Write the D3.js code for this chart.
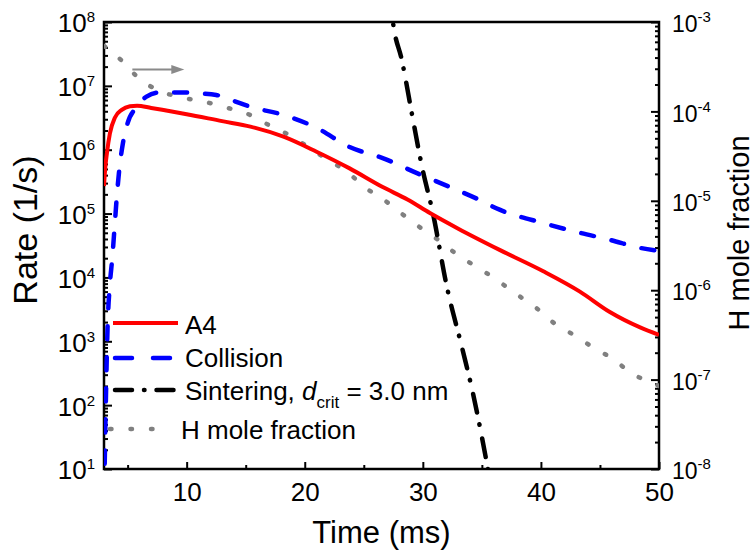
<!DOCTYPE html>
<html>
<head>
<meta charset="utf-8">
<script src="https://cdn.jsdelivr.net/npm/d3@7"></script>
<style>
body { margin: 0; background: #fff; }
svg text { font-family: "Liberation Sans", Arial, sans-serif; fill: #000; }
.tick line { stroke: #000; stroke-width: 2; }
</style>
</head>
<body>
<div id="main"></div>
<script>
var ctx = {
    w: 754,
    h: 555,
    left: 104,
    right: 659,
    top: 22,
    bottom: 469,
};

// A4 rate (1/s) vs time (ms)
var timeA4 = [3.0, 3.1, 3.25, 3.5, 3.93, 4.5, 5.2, 5.8, 7, 10, 13, 15.4, 18.2, 21, 23.8, 26.6, 28.7, 30.6, 33, 36.5, 40.2, 43.3, 45.8, 48.4, 50];
var rateA4 = [2.7e5, 5.0e5, 8.9e5, 1.8e6, 3.2e6, 4.2e6, 4.8e6, 4.9e6, 4.5e6, 3.6e6, 2.8e6, 2.3e6, 1.6e6, 9.3e5, 5.1e5, 2.6e5, 1.66e5, 1.02e5, 5.8e4, 2.7e4, 1.25e4, 6.0e3, 2.9e3, 1.65e3, 1.26e3];

// collision rate
var timeColl = [3.0, 3.05, 3.15, 3.3, 3.5, 3.7, 3.9, 4.1, 4.3, 4.6, 5.0, 5.8, 6.6, 7.7, 9.4, 11.1, 12.5, 13.9, 15.4, 18.2, 21, 23.8, 26.6, 29.5, 32.3, 34.6, 36.5, 40.2, 43.3, 45.8, 48.4, 50];
var rateColl = [4, 10, 100, 1.6e3, 7.9e3, 2.0e4, 6.3e4, 2.0e5, 5.0e5, 1.26e6, 2.6e6, 4.7e6, 6.8e6, 7.9e6, 7.9e6, 7.6e6, 7.2e6, 5.9e6, 4.7e6, 3.5e6, 2.2e6, 1.1e6, 7.4e5, 4.3e5, 2.6e5, 1.7e5, 1.15e5, 7.1e4, 5.0e4, 3.9e4, 2.9e4, 2.6e4];

// sintering rate, d_crit = 3.0 nm
var timeSint = [27.2, 27.47, 28.23, 29.16, 29.93, 30.86, 32.04, 33.31, 34.24, 35.09, 35.51, 35.7];
var rateSint = [2.8e8, 1e8, 2.5e7, 3.0e6, 5.4e5, 1.0e5, 7.1e3, 8.1e2, 1.55e2, 26, 10, 6.3];

// H mole fraction (right axis)
var timeH = [3.0, 4.5, 5.8, 7.5, 9.4, 11.4, 13.4, 15.4, 16.9, 18.6, 20.3, 21.9, 23.6, 25.1, 26.6, 28.2, 29.8, 31.5, 33, 34.7, 36.3, 38, 39.5, 41, 42.7, 44.4, 46.1, 47.7, 49.5, 50];
var fracH = [5.4e-4, 3.7e-4, 2.45e-4, 1.74e-4, 1.45e-4, 1.29e-4, 1.1e-4, 9.1e-5, 7.1e-5, 5.5e-5, 4.0e-5, 2.9e-5, 2.1e-5, 1.41e-5, 1.05e-5, 7.2e-6, 5.0e-6, 3.5e-6, 2.45e-6, 1.78e-6, 1.29e-6, 8.9e-7, 6.5e-7, 4.4e-7, 3.2e-7, 2.3e-7, 1.7e-7, 1.17e-7, 9.1e-8, 8.5e-8];

// axis ticks
var xMajor = [10, 20, 30, 40, 50];
var xMinor = [5, 15, 25, 35, 45];
var yMajor = [1e1, 1e2, 1e3, 1e4, 1e5, 1e6, 1e7, 1e8];
var y2Major = [1e-8, 1e-7, 1e-6, 1e-5, 1e-4, 1e-3];

// arrow pointing at the right axis (data units)
var arrowTime = [5.4, 9.8];
var arrowRate = 1.8e7;

var pts = function(xs, ys){
    return xs.map(function(x, i){ return [x, ys[i]]; });
};

var minorLog = function(majors){
    var out = [];
    majors.slice(0, -1).forEach(function(m){
        for (var k = 2; k <= 9; k++){ out.push(m * k); }
    });
    return out;
};

var supLabels = function(sel, expSize){
    sel.selectAll(".tick text").each(function(d){
        var e = Math.round(Math.log10(d));
        var t = d3.select(this);
        t.text("10");
        t.append("tspan").attr("dy", -10).attr("font-size", expSize).text(e);
    });
};

var createViz = function(){
    var svg = d3.select("#main").append("svg")
                .attr("width", ctx.w).attr("height", ctx.h);

    ctx.xScale = d3.scaleLinear().domain([3, 50]).range([ctx.left, ctx.right]);
    ctx.yScale = d3.scaleLog().domain([1e1, 1e8]).range([ctx.bottom, ctx.top]);
    ctx.y2Scale = d3.scaleLog().domain([1e-8, 1e-3]).range([ctx.bottom, ctx.top]);

    svg.append("defs").append("clipPath").attr("id", "plotClip")
       .append("rect")
       .attr("x", ctx.left).attr("y", ctx.top)
       .attr("width", ctx.right - ctx.left).attr("height", ctx.bottom - ctx.top);

    var bkgG = svg.append("g").attr("id", "bkgG");

    // bottom axis
    bkgG.append("g")
        .attr("transform", `translate(0,${ctx.bottom})`)
        .call(d3.axisBottom(ctx.xScale).tickValues(xMajor).tickSizeInner(-7).tickSizeOuter(0).tickPadding(14))
        .call(function(g){ g.select(".domain").remove(); })
        .selectAll("text").attr("font-size", 26);
    bkgG.append("g")
        .attr("transform", `translate(0,${ctx.bottom})`)
        .call(d3.axisBottom(ctx.xScale).tickValues(xMinor).tickSizeInner(-4).tickSizeOuter(0).tickFormat(""))
        .call(function(g){ g.select(".domain").remove(); });

    // left axis
    var leftG = bkgG.append("g")
        .attr("transform", `translate(${ctx.left},0)`)
        .call(d3.axisLeft(ctx.yScale).tickValues(yMajor).tickSizeInner(-8).tickSizeOuter(0).tickPadding(9))
        .call(function(g){ g.select(".domain").remove(); });
    leftG.selectAll("text").attr("font-size", 26).attr("dy", "0.38em");
    supLabels(leftG, 15);
    bkgG.append("g")
        .attr("transform", `translate(${ctx.left},0)`)
        .call(d3.axisLeft(ctx.yScale).tickValues(minorLog(yMajor)).tickSizeInner(-4).tickSizeOuter(0).tickFormat(""))
        .call(function(g){ g.select(".domain").remove(); });

    // right axis
    var rightG = bkgG.append("g")
        .attr("transform", `translate(${ctx.right},0)`)
        .call(d3.axisRight(ctx.y2Scale).tickValues(y2Major).tickSizeInner(-8).tickSizeOuter(0).tickPadding(13))
        .call(function(g){ g.select(".domain").remove(); });
    rightG.selectAll("text").attr("font-size", 23).attr("dy", "0.42em");
    supLabels(rightG, 15);
    bkgG.append("g")
        .attr("transform", `translate(${ctx.right},0)`)
        .call(d3.axisRight(ctx.y2Scale).tickValues(minorLog(y2Major)).tickSizeInner(-4).tickSizeOuter(0).tickFormat(""))
        .call(function(g){ g.select(".domain").remove(); });

    // frame
    bkgG.append("rect")
        .attr("x", ctx.left).attr("y", ctx.top)
        .attr("width", ctx.right - ctx.left).attr("height", ctx.bottom - ctx.top)
        .attr("fill", "none").attr("stroke", "#000").attr("stroke-width", 2.5);

    // axis titles
    bkgG.append("text")
        .attr("x", (ctx.left + ctx.right) / 2).attr("y", 543)
        .attr("text-anchor", "middle").attr("font-size", 31)
        .text("Time (ms)");
    bkgG.append("text")
        .attr("transform", "translate(37,230) rotate(-90)")
        .attr("text-anchor", "middle").attr("font-size", 34)
        .text("Rate (1/s)");
    bkgG.append("text")
        .attr("transform", "translate(749,233) rotate(-90)")
        .attr("text-anchor", "middle").attr("font-size", 29)
        .text("H mole fraction");

    // data lines
    var lineL = d3.line()
        .x(function(d){ return ctx.xScale(d[0]); })
        .y(function(d){ return ctx.yScale(d[1]); })
        .curve(d3.curveMonotoneX);
    var lineR = d3.line()
        .x(function(d){ return ctx.xScale(d[0]); })
        .y(function(d){ return ctx.y2Scale(d[1]); })
        .curve(d3.curveMonotoneX);

    var dataG = svg.append("g").attr("clip-path", "url(#plotClip)");

    dataG.append("path")
        .attr("d", lineR(pts(timeH, fracH)))
        .attr("fill", "none").attr("stroke", "#808080").attr("stroke-width", 4.5)
        .attr("stroke-linecap", "round").attr("stroke-dasharray", "1.5,19");
    dataG.append("path")
        .attr("d", lineL(pts(timeSint, rateSint)))
        .attr("fill", "none").attr("stroke", "#000").attr("stroke-width", 4.5)
        .attr("stroke-linecap", "round").attr("stroke-dasharray", "19,12,0.5,14");
    dataG.append("path")
        .attr("d", lineL(pts(timeColl, rateColl)))
        .attr("fill", "none").attr("stroke", "#0000ff").attr("stroke-width", 4.5)
        .attr("stroke-linecap", "round").attr("stroke-dasharray", "13,18");
    dataG.append("path")
        .attr("d", lineL(pts(timeA4, rateA4)))
        .attr("fill", "none").attr("stroke", "#ff0000").attr("stroke-width", 4);

    // arrow toward the right axis
    var ax0 = ctx.xScale(arrowTime[0]), ax1 = ctx.xScale(arrowTime[1]), ay = ctx.yScale(arrowRate);
    svg.append("line")
        .attr("x1", ax0).attr("y1", ay).attr("x2", ax1 - 10).attr("y2", ay)
        .attr("stroke", "#8a8a8a").attr("stroke-width", 2);
    svg.append("path")
        .attr("d", `M${ax1},${ay}L${ax1 - 13},${ay - 4.5}L${ax1 - 13},${ay + 4.5}Z`)
        .attr("fill", "#8a8a8a");

    // legend
    var legend = [
        {y: 323, x0: 113, x1: 178, tx: 185, color: "#ff0000", dash: null, w: 4},
        {y: 358, x0: 115, x1: 176, tx: 185, color: "#0000ff", dash: "17,21", w: 4.5},
        {y: 390, x0: 115, x1: 176, tx: 185, color: "#000", dash: "17,12,0.5,12", w: 4.5},
        {y: 429, x0: 110, x1: 162, tx: 181, color: "#808080", dash: "1.5,19", w: 4.5},
    ];
    var legG = svg.append("g");
    legend.forEach(function(l){
        legG.append("line")
            .attr("x1", l.x0).attr("x2", l.x1).attr("y1", l.y).attr("y2", l.y)
            .attr("stroke", l.color).attr("stroke-width", l.w)
            .attr("stroke-linecap", l.dash ? "round" : "butt")
            .attr("stroke-dasharray", l.dash);
    });
    legG.append("text").attr("x", legend[0].tx).attr("y", legend[0].y + 11)
        .attr("font-size", 26).text("A4");
    legG.append("text").attr("x", legend[1].tx).attr("y", legend[1].y + 9)
        .attr("font-size", 26).text("Collision");
    var st = legG.append("text").attr("x", legend[2].tx).attr("y", legend[2].y + 10)
        .attr("font-size", 26);
    st.append("tspan").text("Sintering, ");
    st.append("tspan").attr("font-style", "italic").text("d");
    st.append("tspan").attr("font-size", 17).attr("dy", 8).text("crit");
    st.append("tspan").attr("dy", -8).text(" = 3.0 nm");
    legG.append("text").attr("x", legend[3].tx).attr("y", legend[3].y + 10)
        .attr("font-size", 26).text("H mole fraction");
};

createViz();
</script>
</body>
</html>
